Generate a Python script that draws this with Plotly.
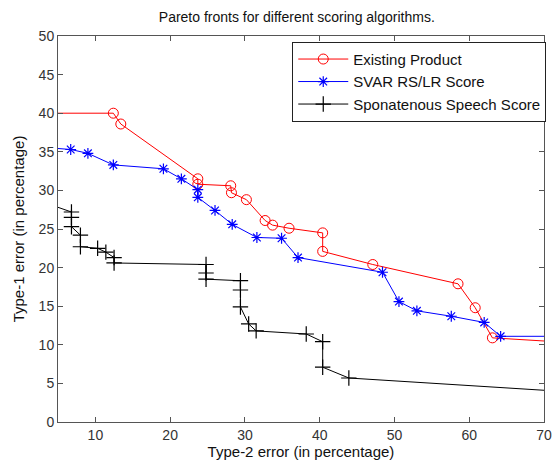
import plotly.graph_objects as go

# Existing Product
existing_x = [0, 12.4, 13.4, 23.7, 23.7, 28.1, 28.2, 30.2, 32.7, 33.7, 35.9, 40.4, 40.4, 47.1, 58.5, 60.8, 63.1, 75]
existing_y = [40, 40, 38.6, 31.5, 30.8, 30.6, 29.7, 28.8, 26.1, 25.5, 25.1, 24.5, 22.1, 20.4, 17.9, 14.8, 10.9, 10.2]

# SVAR RS/LR Score
svar_x = [0, 6.7, 9.0, 12.4, 19.1, 21.5, 23.7, 23.7, 26.0, 28.3, 31.6, 34.9, 37.1, 48.4, 50.6, 53.0, 57.6, 62.0, 64.2, 80]
svar_y = [35.8, 35.3, 34.8, 33.3, 32.8, 31.5, 30.1, 29.1, 27.4, 25.6, 23.9, 23.8, 21.3, 19.4, 15.6, 14.4, 13.7, 12.9, 11.1, 11.1]

# Sponatenous Speech Score
spont_x = [0, 6.8, 6.8, 6.8, 8.0, 8.0, 10.3, 11.4, 12.5, 12.5, 24.8, 24.8, 24.8, 29.4, 29.4, 29.4, 30.5, 31.5, 38.2, 40.4, 40.4, 43.9, 80]
spont_y = [29.5, 27.2, 26.5, 25.3, 24.2, 22.7, 22.5, 22.0, 21.3, 20.6, 20.4, 19.3, 18.5, 18.3, 17.1, 14.9, 12.7, 11.8, 11.4, 10.4, 7.1, 5.7, 3.5]

x_ticks = [10, 20, 30, 40, 50, 60, 70]
y_ticks = [0, 5, 10, 15, 20, 25, 30, 35, 40, 45, 50]

FONT = "Liberation Sans, Arial"

fig = go.Figure()
fig.add_trace(go.Scatter(x=existing_x, y=existing_y, mode="lines+markers", name="Existing Product",
                         line=dict(color="#ff0000", width=1),
                         marker=dict(symbol="circle-open", size=10, color="#ff0000", line=dict(width=1))))
fig.add_trace(go.Scatter(x=svar_x, y=svar_y, mode="lines+markers", name="SVAR RS/LR Score",
                         line=dict(color="#0000ff", width=1),
                         marker=dict(symbol="asterisk-open", size=9, color="#0000ff", line=dict(width=1.2, color="#0000ff"))))
fig.add_trace(go.Scatter(x=spont_x, y=spont_y, mode="lines+markers", name="Sponatenous Speech Score",
                         line=dict(color="#000000", width=1),
                         marker=dict(symbol="cross-thin-open", size=11, color="#000000", line=dict(width=1.2, color="#000000"))))

axis_common = dict(showline=True, linecolor="#555555", linewidth=1, mirror="ticks",
                   ticks="inside", ticklen=5, tickcolor="#555555", showgrid=False, zeroline=False,
                   tickfont=dict(family=FONT, size=14, color="#333333"))

fig.update_layout(
    width=560, height=464,
    margin=dict(l=58, r=8, t=36, b=40),
    paper_bgcolor="white", plot_bgcolor="white",
    title=dict(text="Pareto fronts for different scoring algorithms.", x=0.53, xanchor="center",
               y=1 - 17 / 464, yanchor="middle",
               font=dict(family=FONT, size=14, color="#111111")),
    xaxis=dict(range=[5, 70], tickvals=x_ticks, **axis_common,
               title=dict(text="Type-2 error (in percentage)", standoff=3,
                          font=dict(family=FONT, size=15, color="#111111"))),
    yaxis=dict(range=[0, 50], tickvals=y_ticks, **axis_common,
               title=dict(text="Type-1 error (in percentage)", standoff=10,
                          font=dict(family=FONT, size=15, color="#111111"))),
    legend=dict(x=0.482, y=0.985, xanchor="left", yanchor="top", bgcolor="white",
                bordercolor="#222222", borderwidth=1, tracegroupgap=0, itemwidth=50,
                font=dict(family=FONT, size=15, color="#111111")),
    showlegend=True,
)

fig.write_html("out.html", config={"displayModeBar": False},
               post_script="document.body.style.margin='0';")
